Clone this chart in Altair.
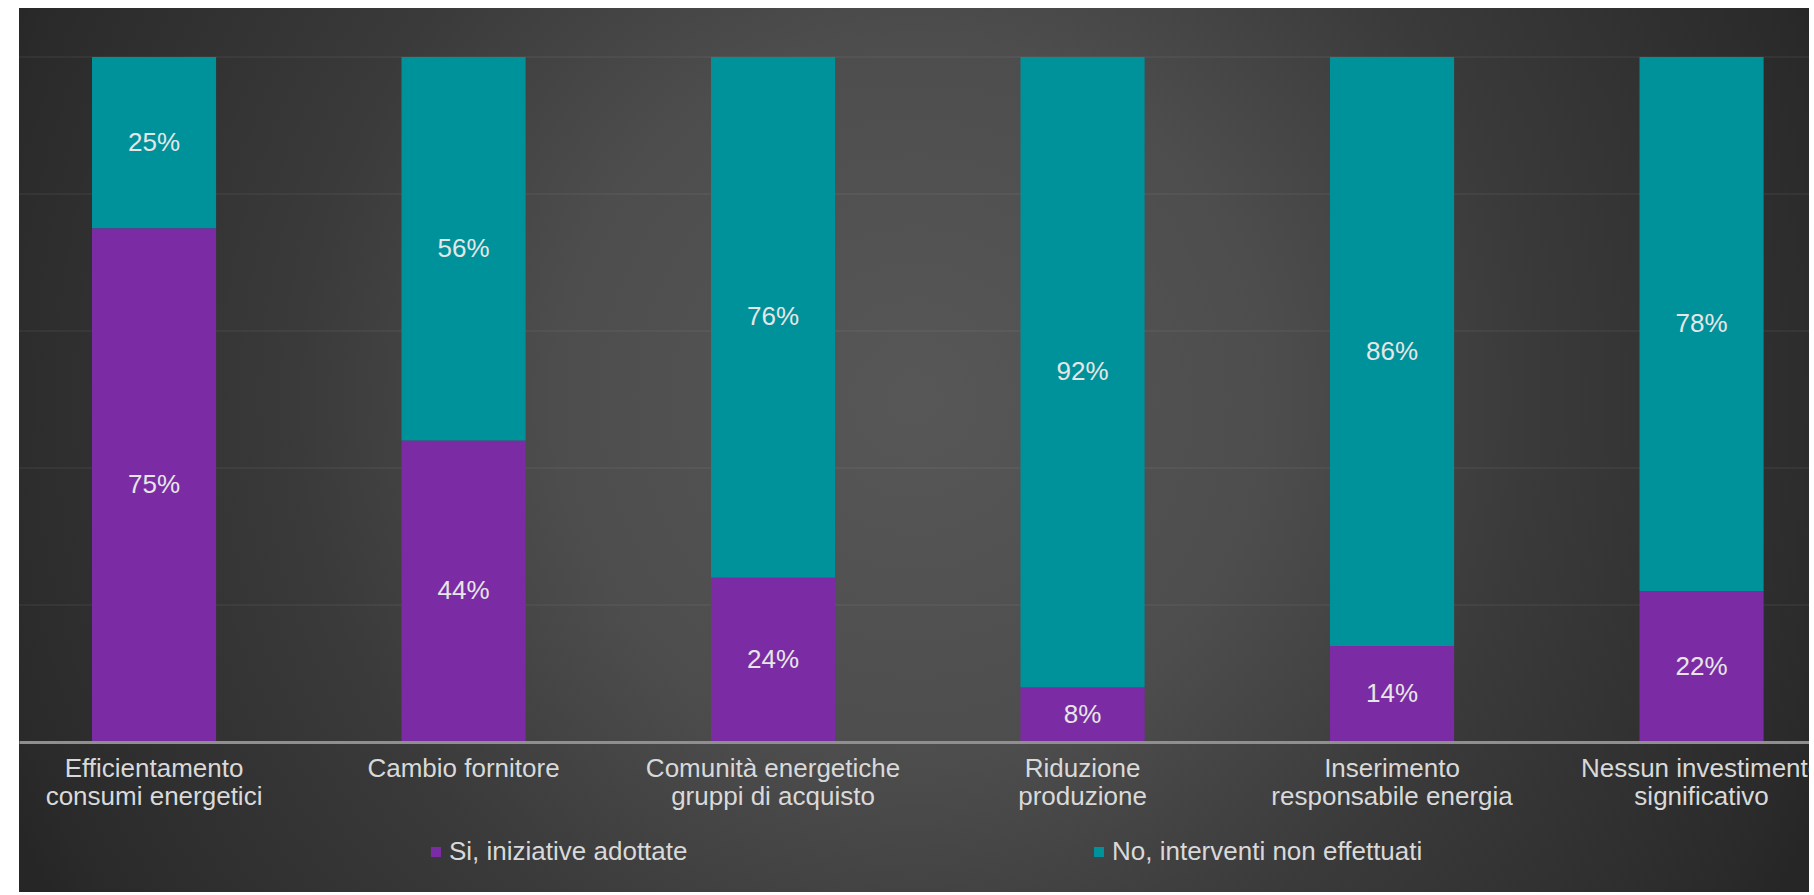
import altair as alt
import pandas as pd

# ---- data ----
categories = [
    "Efficientamento|consumi energetici",
    "Cambio fornitore",
    "Comunità energetiche|gruppi di acquisto",
    "Riduzione|produzione",
    "Inserimento|responsabile energia",
    "Nessun investimento|significativo",
]
si_values = [75, 44, 24, 8, 14, 22]
no_values = [25, 56, 76, 92, 86, 78]
series = ["Si, iniziative adottate", "No, interventi non effettuati"]
series_colors = ["#7B2CA5", "#00929B"]
grid_values = [20, 40, 60, 80, 100]

rows = []
for c, s, n in zip(categories, si_values, no_values):
    rows.append({"cat": c, "series": series[0], "value": s, "ord": 0})
    rows.append({"cat": c, "series": series[1], "value": n, "ord": 1})
df = pd.DataFrame(rows)

W, H = 1790, 685
FONT = "Liberation Sans, Arial, Helvetica, sans-serif"

yscale = alt.Scale(domain=[0, 100], nice=False, zero=True)
xscale = alt.Scale(paddingInner=0.599, paddingOuter=0.1912, align=0.6166)
xaxis = alt.Axis(
    title=None,
    labelExpr="split(datum.label, '|')",
    labelFontSize=26,
    labelFont=FONT,
    labelColor="#d9d9d9",
    labelLineHeight=28,
    labelBaseline="top",
    labelAngle=0,
    labelPadding=13,
    labelLimit=600,
    labelOverlap=False,
    ticks=False,
    grid=False,
    domainColor="#8f8f8f",
    domainWidth=3,
    zindex=1,
)

bg = alt.Chart(pd.DataFrame({"k": [0]})).mark_rect(
    color=alt.RadialGradient(
        gradient="radial",
        x1=0.5, y1=0.218, x2=0.5, y2=0.218, r1=0, r2=0.557,
        stops=[
            alt.GradientStop(offset=0, color="#575757"),
            alt.GradientStop(offset=0.36, color="#4d4d4d"),
            alt.GradientStop(offset=0.62, color="#3a3a3a"),
            alt.GradientStop(offset=0.95, color="#2a2a2a"),
            alt.GradientStop(offset=1, color="#262626"),
        ],
    ),
    strokeWidth=0,
).encode(x=alt.value(0), x2=alt.value(W), y=alt.value(-49), y2=alt.value(-49 + W))

grid = alt.Chart(pd.DataFrame({"g": grid_values})).mark_rule(
    color="white", opacity=0.09, strokeWidth=1
).encode(y=alt.Y("g:Q", scale=yscale, axis=None))

base = alt.Chart(df).transform_stack(
    stack="value", groupby=["cat"], as_=["y0", "y1"],
    sort=[alt.SortField("ord", order="ascending")],
).transform_calculate(
    mid="(datum.y0 + datum.y1) / 2",
    label="datum.value + '%'",
)

bars = base.mark_bar().encode(
    x=alt.X("cat:N", sort=categories, scale=xscale, axis=xaxis),
    y=alt.Y("y0:Q", scale=yscale, axis=None),
    y2="y1:Q",
    color=alt.Color(
        "series:N",
        scale=alt.Scale(domain=series, range=series_colors),
        legend=alt.Legend(
            title=None,
            orient="none",
            legendX=404,
            legendY=782,
            direction="horizontal",
            symbolType="square",
            symbolSize=100,
            symbolStrokeWidth=0,
            labelFontSize=26,
            labelFont=FONT,
            labelColor="#d9d9d9",
            labelOffset=0,
            labelLimit=600,
            columnPadding=398,
        ),
    ),
)

text = base.mark_text(fontSize=26, font=FONT, color="#e6e6e6").encode(
    x=alt.X("cat:N", sort=categories, scale=xscale, axis=xaxis),
    y=alt.Y("mid:Q", scale=yscale, axis=None),
    text="label:N",
)

chart = alt.layer(bg, grid, bars, text).properties(
    width=W,
    height=H,
    autosize=alt.AutoSizeParams(type="none"),
    padding={"left": 19, "top": 57, "right": 0, "bottom": 150},
    background="white",
).configure_view(strokeWidth=0)

chart.save("out.html", embed_options={"renderer": "svg", "actions": False})
